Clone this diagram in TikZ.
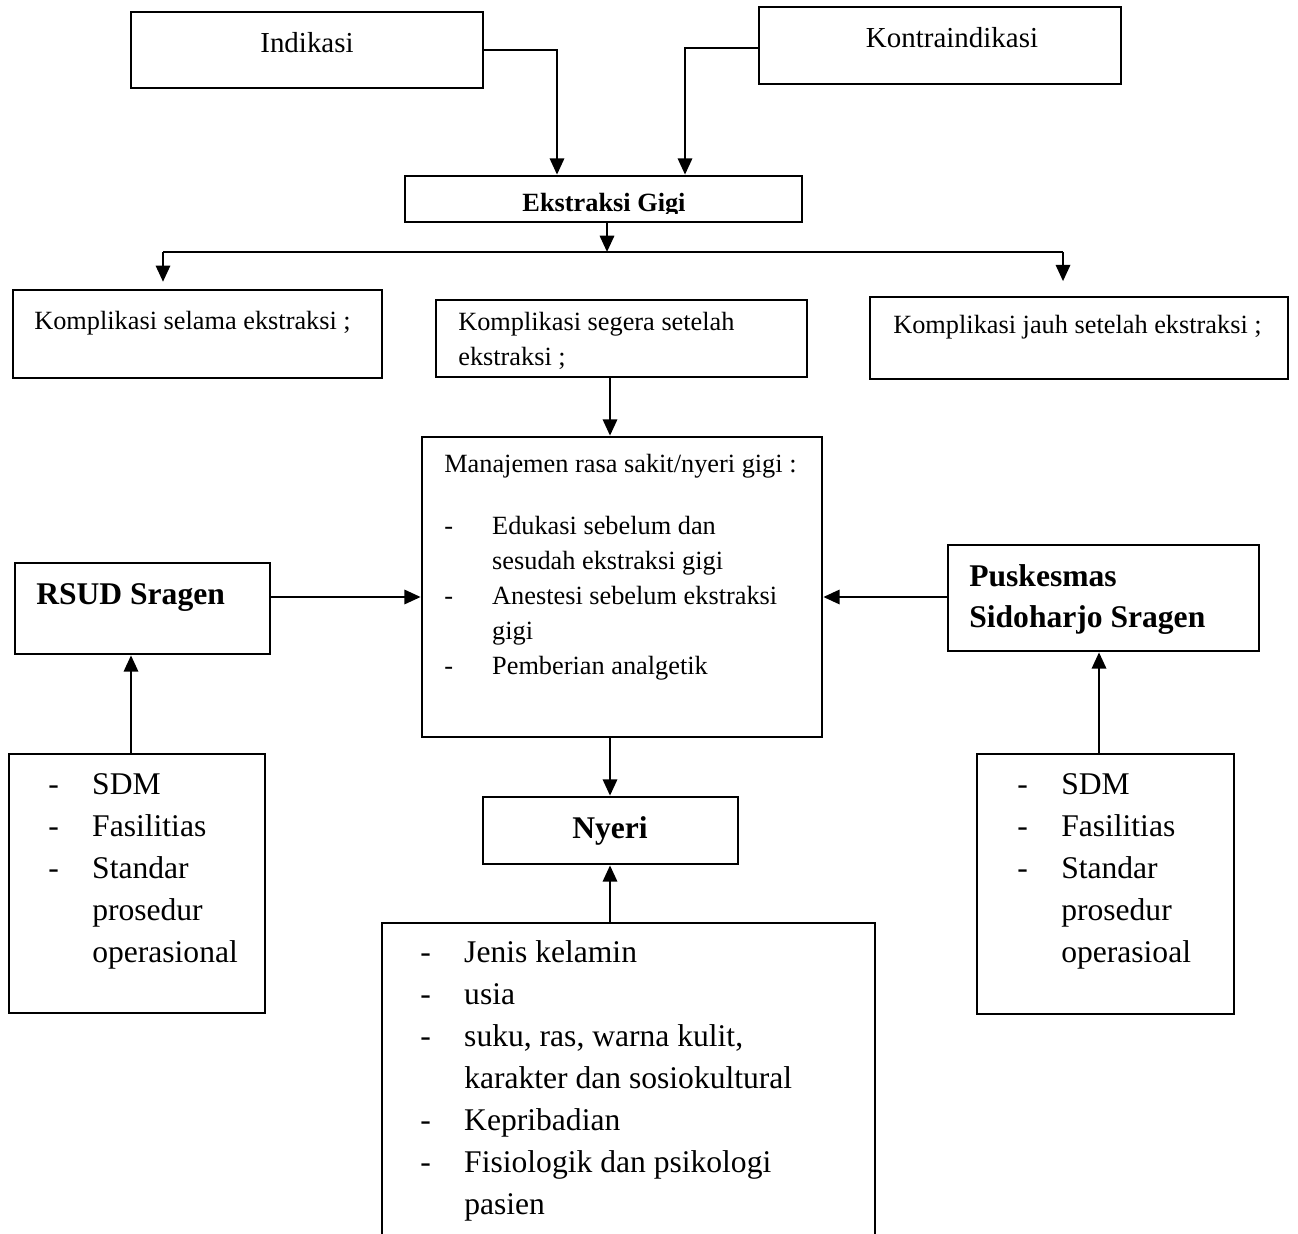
\documentclass[tikz,border=0pt]{standalone}
\usepackage{fontspec}
\setmainfont{Liberation Serif}
\usetikzlibrary{arrows.meta}
\usetikzlibrary{calc}

\tikzset{
	box/.style 2 args={draw, line width=1pt, inner sep=0pt, minimum width=#1*0.38pt, minimum height=#2*0.38pt},
	txt/.style={inner sep=0pt, anchor=base west},
	big/.style={font=\fontsize{12}{16}\selectfont},
	bigbold/.style={font=\fontsize{12}{16}\selectfont\bfseries},
	small/.style={font=\fontsize{10}{13.3}\selectfont},
}

\begin{document}
\begin{tikzpicture}[x=0.38pt, y=-0.38pt, >={Triangle[length=6.2pt,width=5.4pt]}, line width=1pt]
	\clip (0,0) rectangle (1298,1234);	%page, cuts the lowest box
	
	%boxes
	\node[box={352}{76}] (indikasi) at (307,50) {};
	\node[box={362}{77}] (kontra) at (940,45.5) {};
	\node[box={397}{46}] (ekstraksi) at (603.5,199) {};
	\node[box={369}{88}] (selama) at (197.5,334) {};
	\node[box={371}{77}] (segera) at (621.5,338.5) {};
	\node[box={418}{82}] (jauh) at (1079,338) {};
	\node[box={400}{300}] (manajemen) at (622,587) {};
	\node[box={255}{91}] (rsud) at (142.5,608.5) {};
	\node[box={311}{106}] (puskesmas) at (1103.5,598) {};
	\node[box={256}{259}] (sdmL) at (137,883.5) {};
	\node[box={257}{260}] (sdmR) at (1105.5,884) {};
	\node[box={255}{67}] (nyeri) at (610.5,830.5) {};
	\node[box={493}{337}] (faktor) at (628.5,1091.5) {};
	
	%labels
	\node[txt, anchor=base, font=\fontsize{11}{13}\selectfont] (indikasiT) at (307,53) {Indikasi};
	\node[txt, anchor=base, font=\fontsize{11}{13}\selectfont] (kontraT) at (952,48) {Kontraindikasi};
	\begin{scope}
		\clip (405,176) rectangle (802,214);	%text cut at its baseline
		\node[txt, anchor=base, font=\fontsize{10}{12}\selectfont\bfseries] (ekstraksiT) at (604,212) {Ekstraksi Gigi};
	\end{scope}
	\node[txt, small] (selamaT) at (33,330) {Komplikasi selama ekstraksi ;};
	\node[txt, small] (segeraT) at (457,331) {\begin{tabular}[t]{@{}l@{}}Komplikasi segera setelah\\ ekstraksi ;\end{tabular}};
	\node[txt, small] (jauhT) at (892,334) {Komplikasi jauh setelah ekstraksi ;};
	\node[txt, small] (manajemenT) at (443,473) {\begin{tabular}[t]{@{}p{18.2pt}@{}l@{}}
		\multicolumn{2}{@{}l@{}}{Manajemen rasa sakit/nyeri gigi :}\\[9.9pt]
		- & Edukasi sebelum dan\\
		  & sesudah ekstraksi gigi\\
		- & Anestesi sebelum ekstraksi\\
		  & gigi\\
		- & Pemberian analgetik
	\end{tabular}};
	\node[txt, bigbold] (rsudT) at (35,604) {RSUD Sragen};
	\node[txt, bigbold] (puskesmasT) at (968,586) {\begin{tabular}[t]{@{}l@{}}Puskesmas\\[-0.4pt] Sidoharjo Sragen\end{tabular}};
	\node[txt, big] (sdmLT) at (47,794) {\begin{tabular}[t]{@{}p{16.7pt}@{}l@{}}
		- & SDM\\
		- & Fasilitias\\
		- & Standar\\
		  & prosedur\\
		  & operasional
	\end{tabular}};
	\node[txt, big] (sdmRT) at (1016,794) {\begin{tabular}[t]{@{}p{16.7pt}@{}l@{}}
		- & SDM\\
		- & Fasilitias\\
		- & Standar\\
		  & prosedur\\
		  & operasioal
	\end{tabular}};
	\node[txt, bigbold, anchor=base] (nyeriT) at (610,838) {Nyeri};
	\node[txt, big] (faktorT) at (419,962) {\begin{tabular}[t]{@{}p{16.7pt}@{}l@{}}
		- & Jenis kelamin\\
		- & usia\\
		- & suku, ras, warna kulit,\\
		  & karakter dan sosiokultural\\
		- & Kepribadian\\
		- & Fisiologik dan psikologi\\
		  & pasien
	\end{tabular}};
	
	%helper points
	\coordinate (split) at (607,252);
	\coordinate (splitL) at (163,252);
	\coordinate (splitR) at (1063,252);
	\coordinate (mid) at (610,0);
	\coordinate (lvl) at (0,597);
	\coordinate (colL) at (131,0);
	\coordinate (colR) at (1099,0);
	
	%top arrows
	\draw[->] (indikasi.east) -| ($(ekstraksi.north)+(-46.5,0)$);
	\draw[->] ($(kontra.west)+(0,2.5)$) -| ($(ekstraksi.north)+(81.5,0)$);
	\draw[->] (ekstraksi.south -| split) -- (split);
	\draw (splitL) -- (splitR);
	\draw[->, shorten >=2.6pt] (splitL) -- (selama.north -| splitL);
	\draw[->, shorten >=5.5pt] (splitR) -- (jauh.north -| splitR);
	
	%middle column
	\draw[->] (segera.south -| mid) -- (manajemen.north -| mid);
	\draw[->] (manajemen.south -| mid) -- (nyeri.north -| mid);
	\draw[->] (faktor.north -| mid) -- (nyeri.south -| mid);
	
	%side arrows
	\draw[->] (rsud.east |- lvl) -- (manajemen.west |- lvl);
	\draw[->] (puskesmas.west |- lvl) -- (manajemen.east |- lvl);
	\draw[->] (sdmL.north -| colL) -- (rsud.south -| colL);
	\draw[->] (sdmR.north -| colR) -- (puskesmas.south -| colR);
\end{tikzpicture}
\end{document}
